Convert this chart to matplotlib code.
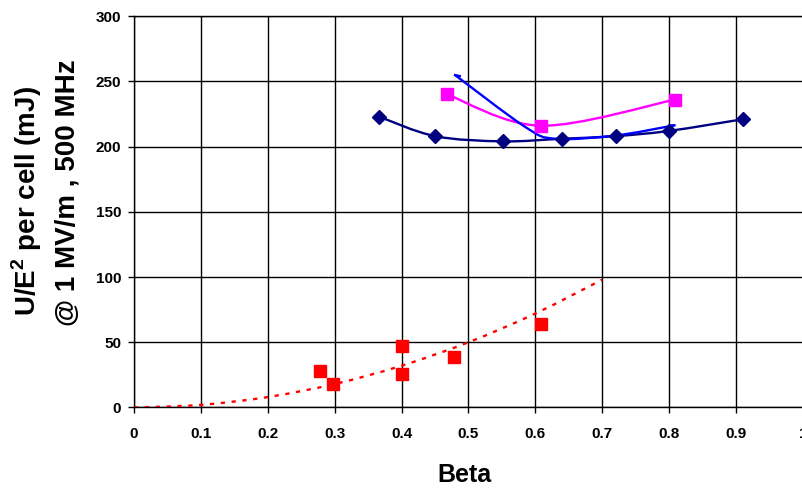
import numpy as np
import matplotlib
matplotlib.use('Agg')
import matplotlib.pyplot as plt
from matplotlib.path import Path
from matplotlib.patches import PathPatch

plt.rcParams['font.family'] = ['Liberation Sans', 'DejaVu Sans']
plt.rcParams['font.weight'] = 'bold'
plt.rcParams['mathtext.fontset'] = 'custom'
plt.rcParams['mathtext.rm'] = 'Liberation Sans:bold'
plt.rcParams['mathtext.bf'] = 'Liberation Sans:bold'

# navy diamonds (smoothed line)
navy_beta = [0.366, 0.450, 0.551, 0.640, 0.720, 0.800, 0.911]
navy_u = [223, 208, 204, 206, 208, 212, 221]

# magenta squares (smoothed line)
mag_beta = [0.468, 0.608, 0.809]
mag_u = [240, 216, 236]

# blue line, no markers
blue_beta = [0.480, 0.585, 0.630, 0.720, 0.808]
blue_u = [254.8, 215.0, 206.0, 208.5, 216.3]
# small hooks at the two ends of the blue line
blue_hook1_beta = [0.480, 0.487]
blue_hook1_u = [254.8, 254.0]
blue_hook2_beta = [0.808, 0.800]
blue_hook2_u = [216.3, 216.0]

# red squares
red_beta = [0.278, 0.298, 0.400, 0.400, 0.478, 0.608]
red_u = [28, 18, 47, 26, 39, 64]

# red dotted trendline
trend_beta = [0.0, 0.1, 0.2, 0.3, 0.4, 0.5, 0.6, 0.7]
trend_u = [0, 2, 8, 18, 32, 50, 72, 98]

x_ticks = [0, 0.1, 0.2, 0.3, 0.4, 0.5, 0.6, 0.7, 0.8, 0.9, 1.0]
x_tick_labels = ['0', '0.1', '0.2', '0.3', '0.4', '0.5', '0.6', '0.7', '0.8', '0.9', '1']
y_ticks = [0, 50, 100, 150, 200, 250, 300]


def smooth_path(xs, ys):
    """bezier path through the points, like a spreadsheet smoothed line"""
    pts = np.column_stack([xs, ys]).astype(float)
    n = len(pts)
    verts = [pts[0]]
    codes = [Path.MOVETO]
    for i in range(n - 1):
        p0 = pts[max(i - 1, 0)]
        p1 = pts[i]
        p2 = pts[i + 1]
        p3 = pts[min(i + 2, n - 1)]
        verts += [p1 + (p2 - p0) / 6, p2 - (p3 - p1) / 6, p2]
        codes += [Path.CURVE4] * 3
    return Path(verts, codes)


def add_smooth(ax, xs, ys, color, lw, ls='-', z=3):
    patch = PathPatch(smooth_path(xs, ys), facecolor='none', edgecolor=color,
                      lw=lw, linestyle=ls, zorder=z, capstyle='butt')
    ax.add_patch(patch)


fig = plt.figure(figsize=(8.02, 4.88), dpi=100)
ax = fig.add_axes([0.1671, 0.165, 0.834, 0.802])

ax.set_xlim(0, 1)
ax.set_ylim(0, 300)
ax.set_xticks(x_ticks)
ax.set_xticklabels(x_tick_labels)
ax.set_yticks(y_ticks)
ax.grid(True, color='black', lw=1)
ax.set_axisbelow(True)
for s in ax.spines.values():
    s.set_color('black')
    s.set_linewidth(1)
ax.tick_params(direction='out', length=4.3, width=1, labelsize=11)
ax.tick_params(axis='x', pad=10)
ax.tick_params(axis='y', pad=5)

# lines
add_smooth(ax, trend_beta, trend_u, '#FF0000', 1.7, ls=(0, (1.8, 2.8)), z=3)
add_smooth(ax, navy_beta, navy_u, '#000080', 1.7, z=3)
add_smooth(ax, mag_beta, mag_u, '#FF00FF', 1.7, z=3)
add_smooth(ax, blue_beta, blue_u, '#0000FF', 1.7, z=4)
ax.plot(blue_hook1_beta, blue_hook1_u, color='#0000FF', lw=1.7, zorder=4)
ax.plot(blue_hook2_beta, blue_hook2_u, color='#0000FF', lw=1.7, zorder=4)

# markers
ax.plot(navy_beta, navy_u, 'D', color='#000080', ms=7, ls='none', zorder=5)
ax.plot(mag_beta, mag_u, 's', color='#FF00FF', ms=8, ls='none', zorder=5)
ax.plot(red_beta, red_u, 's', color='#FF0000', ms=8, ls='none', zorder=5)

fig.text(0.5786, 0.027, 'Beta', fontsize=18, fontweight='bold', ha='center', va='center')
fig.text(0.033, 0.588, r'U/E$^{2}$ per cell (mJ)', fontsize=20, fontweight='bold',
         rotation=90, ha='center', va='center')
fig.text(0.084, 0.605, '@ 1 MV/m , 500 MHz', fontsize=20, fontweight='bold',
         rotation=90, ha='center', va='center')

fig.savefig('out.png', dpi=100)
